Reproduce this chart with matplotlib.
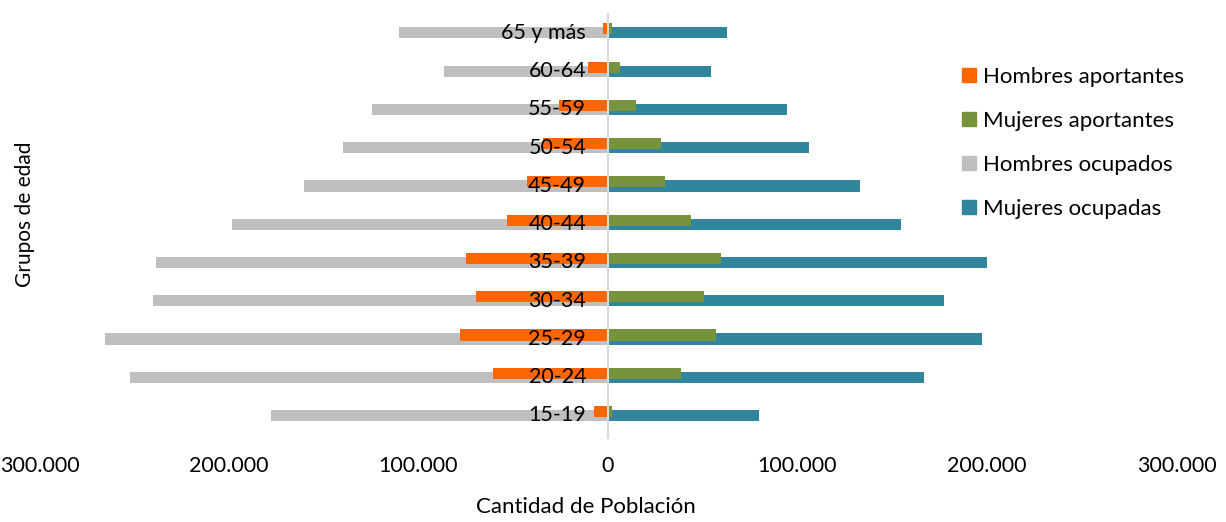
import numpy as np
import matplotlib.pyplot as plt
from matplotlib.patches import Patch
from matplotlib.ticker import FuncFormatter

# Age groups, bottom to top
grupos = ["15-19", "20-24", "25-29", "30-34", "35-39", "40-44",
          "45-49", "50-54", "55-59", "60-64", "65 y más"]

# values (people)
hombres_aportantes = [7400, 60700, 78100, 69700, 74900, 53300, 42700, 34300, 25900, 10600, 2600]
mujeres_aportantes = [2100, 38500, 57000, 50700, 59600, 43800, 30100, 28000, 14800, 6300, 2100]
hombres_ocupados = [177800, 252200, 265400, 240100, 238500, 198400, 160400, 139800, 124500, 86500, 110300]
mujeres_ocupadas = [79700, 166800, 197400, 177300, 200000, 154600, 133000, 106100, 94500, 54400, 62800]

c_hap = "#FF6600"
c_map = "#77933C"
c_hoc = "#BFBFBF"
c_moc = "#31859C"

plt.rcParams['font.family'] = ['Lato', 'DejaVu Sans']

fig = plt.figure(figsize=(12.26, 5.22), dpi=100)
ax = fig.add_axes([39.5/1226, 87/522, 1137/1226, 425/522])

y = np.arange(len(grupos))
h = 0.29
off = 0.105

# ocupados behind, aportantes slightly above
ax.barh(y, -np.array(hombres_ocupados), height=h, color=c_hoc, zorder=1)
ax.barh(y, mujeres_ocupadas, height=h, color=c_moc, zorder=1)
ax.barh(y + off, -np.array(hombres_aportantes), height=h, color=c_hap, zorder=2)
ax.barh(y + off, mujeres_aportantes, height=h, color=c_map, zorder=2)

ax.axvline(0, ymin=-0.007, ymax=0.99, color="#D9D9D9", lw=1.5, zorder=3, clip_on=False)

for i, g in enumerate(grupos):
    ax.text(-11500, i, g, ha="right", va="center", fontsize=15.5, color="#000000", zorder=4)

ax.set_xlim(-300000, 300000)
ax.set_ylim(-0.51, 10.6)
ax.set_xticks([-300000, -200000, -100000, 0, 100000, 200000, 300000])
ax.xaxis.set_major_formatter(FuncFormatter(lambda v, p: f"{abs(int(v)):,}".replace(",", ".")))
ax.tick_params(axis="x", length=0, pad=15, labelsize=15.5)
ax.set_yticks([])
for s in ax.spines.values():
    s.set_visible(False)

fig.text(586/1226, 1 - 507/522, "Cantidad de Población", ha="center", va="center", fontsize=16)
fig.text(25/1226, 1 - 214/522, "Grupos de edad", ha="center", va="center", rotation=90, fontsize=15)

handles = [Patch(color=c_hap, label="Hombres aportantes"),
           Patch(color=c_map, label="Mujeres aportantes"),
           Patch(color=c_hoc, label="Hombres ocupados"),
           Patch(color=c_moc, label="Mujeres ocupadas")]
fig.legend(handles=handles, loc="upper left", bbox_to_anchor=(942/1226, 1 - 47/522),
           frameon=False, fontsize=16, handlelength=0.63, handleheight=0.63,
           handletextpad=0.3, labelspacing=1.08)

fig.savefig("out.png", dpi=100)
